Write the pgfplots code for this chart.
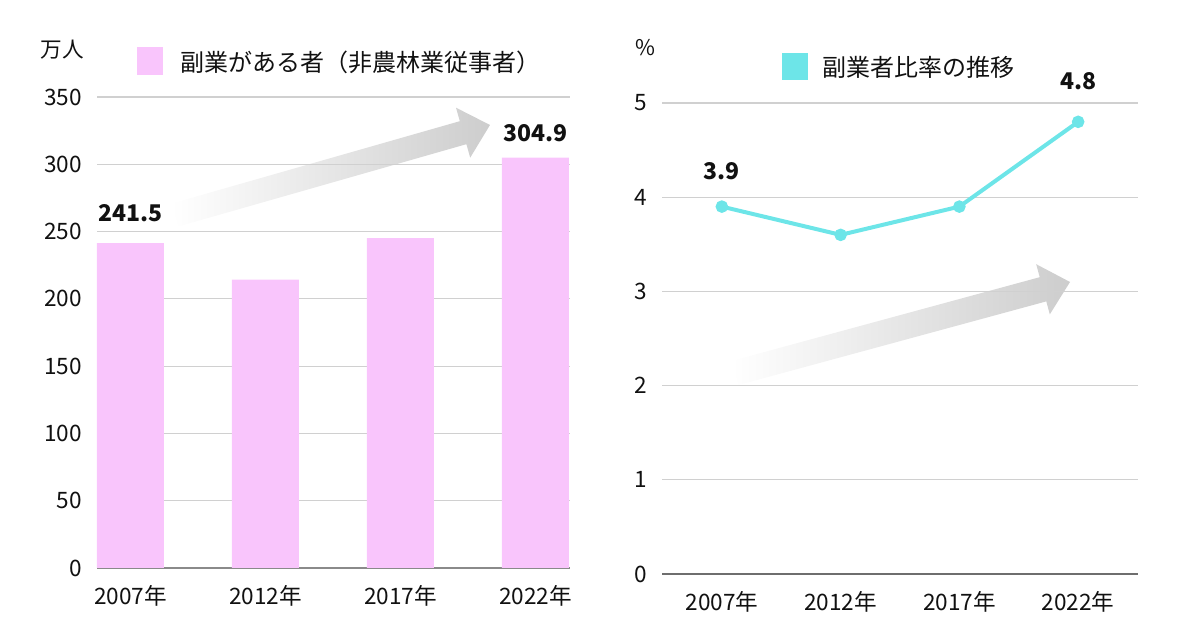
\documentclass[border=0pt]{standalone}
\usepackage{pgfplots}
\pgfplotsset{compat=1.18}
\usepackage{fontspec}
\setmainfont{Noto Sans CJK JP}
\definecolor{pinkbar}{HTML}{F9C5FC}
\definecolor{cyanline}{HTML}{6DE5E8}
\definecolor{gridgray}{HTML}{D0D0D0}
\definecolor{basegray}{HTML}{8A8A8A}
\definecolor{arrowgray}{HTML}{CDCDCD}
\definecolor{txt}{HTML}{111111}
\pgfplotstableread{
x y
0 241.5
1 214.3
2 245.2
3 304.9
}\workers
\pgfplotstableread{
x y
0 3.9
1 3.6
2 3.9
3 4.8
}\ratio
\newcommand{\tickfont}{\fontsize{11.3}{13}\selectfont}
\newcommand{\unitfont}{\fontsize{10.8}{12}\selectfont}
\newcommand{\lblfont}{\fontsize{11.5}{13}\selectfont\bfseries}
\begin{document}
\begin{tikzpicture}
\useasboundingbox (0,0) rectangle (600pt,315pt);
% decorative arrows and legends in pixel coordinates
\begin{scope}[x=0.5pt,y=-0.5pt,yshift=315pt]
  \shade[left color=white, right color=arrowgray]
    (171.7,203.5) -- (459.8,121.2) -- (456.0,107.7) -- (490,125) -- (470.2,157.7) -- (466.4,144.2) -- (178.3,226.5) -- cycle;
  \shade[left color=white, right color=arrowgray]
    (731.7,360.9) -- (1039.7,277.2) -- (1036.2,264.2) -- (1070,282) -- (1049.8,314.4) -- (1046.3,301.4) -- (738.3,385.1) -- cycle;
  \fill[pinkbar] (137,47) rectangle (163,75);
  \node[anchor=west, inner sep=0pt, text=txt, font=\fontsize{12}{14}\selectfont] at (180,62) {副業がある者（非農林業従事者）};
  \fill[cyanline] (782,53) rectangle (808,80);
  \node[anchor=west, inner sep=0pt, text=txt, font=\fontsize{12}{14}\selectfont] at (822,67) {副業者比率の推移};
  \node[inner sep=0pt, text=txt, font=\unitfont] at (62,50) {万人};
  \node[inner sep=0pt, text=txt, font=\unitfont] at (645,48) {\%};
\end{scope}
% left axis
\begin{axis}[at={(48.5pt,31pt)}, anchor=south west, scale only axis,
  width=236.5pt, height=235.5pt,
  xmin=-0.248, xmax=3.256, ymin=0, ymax=350,
  ytick={0,50,...,350}, xtick={0,1,2,3},
  xticklabels={2007年,2012年,2017年,2022年},
  axis line style={draw=none}, major tick length=0pt,
  ymajorgrids, grid style={gridgray, line width=0.6pt},
  tick label style={font=\tickfont, text=txt},
  /pgf/number format/assume math mode=true,
  yticklabel style={xshift=-4pt},
  xticklabel style={yshift=-5pt},
  clip=false]
  \draw[basegray, line width=0.8pt] (axis cs:-0.248,0) -- (axis cs:3.256,0);
  \addplot[ybar, bar width=33.5pt, fill=pinkbar, draw=none] table[x=x,y=y] {\workers};
  \node[anchor=base, inner sep=0pt, font=\lblfont, text=txt] at (axis cs:0,241.5) [yshift=11pt] {241.5};
  \node[anchor=base, inner sep=0pt, font=\lblfont, text=txt] at (axis cs:3,304.9) [yshift=8pt] {304.9};
\end{axis}
% right axis
\begin{axis}[at={(331pt,28pt)}, anchor=south west, scale only axis,
  width=238pt, height=235.5pt,
  xmin=-0.504, xmax=3.504, ymin=0, ymax=5,
  ytick={0,1,...,5}, xtick={0,1,2,3},
  xticklabels={2007年,2012年,2017年,2022年},
  axis line style={draw=none}, major tick length=0pt,
  ymajorgrids, grid style={gridgray, line width=0.6pt},
  tick label style={font=\tickfont, text=txt},
  /pgf/number format/assume math mode=true,
  yticklabel style={xshift=-4pt},
  xticklabel style={yshift=-5pt},
  clip=false]
  \draw[basegray!80!black, line width=0.8pt] (axis cs:-0.504,0) -- (axis cs:3.504,0);
  \addplot[cyanline, line width=2pt, mark=*, mark size=2.1pt, mark options={fill=cyanline, draw=cyanline}] table[x=x,y=y] {\ratio};
  \node[anchor=base, inner sep=0pt, font=\lblfont, text=txt] at (axis cs:0,3.9) [yshift=13.5pt] {3.9};
  \node[anchor=base, inner sep=0pt, font=\lblfont, text=txt] at (axis cs:3,4.8) [yshift=16pt] {4.8};
\end{axis}
\end{tikzpicture}
\end{document}
